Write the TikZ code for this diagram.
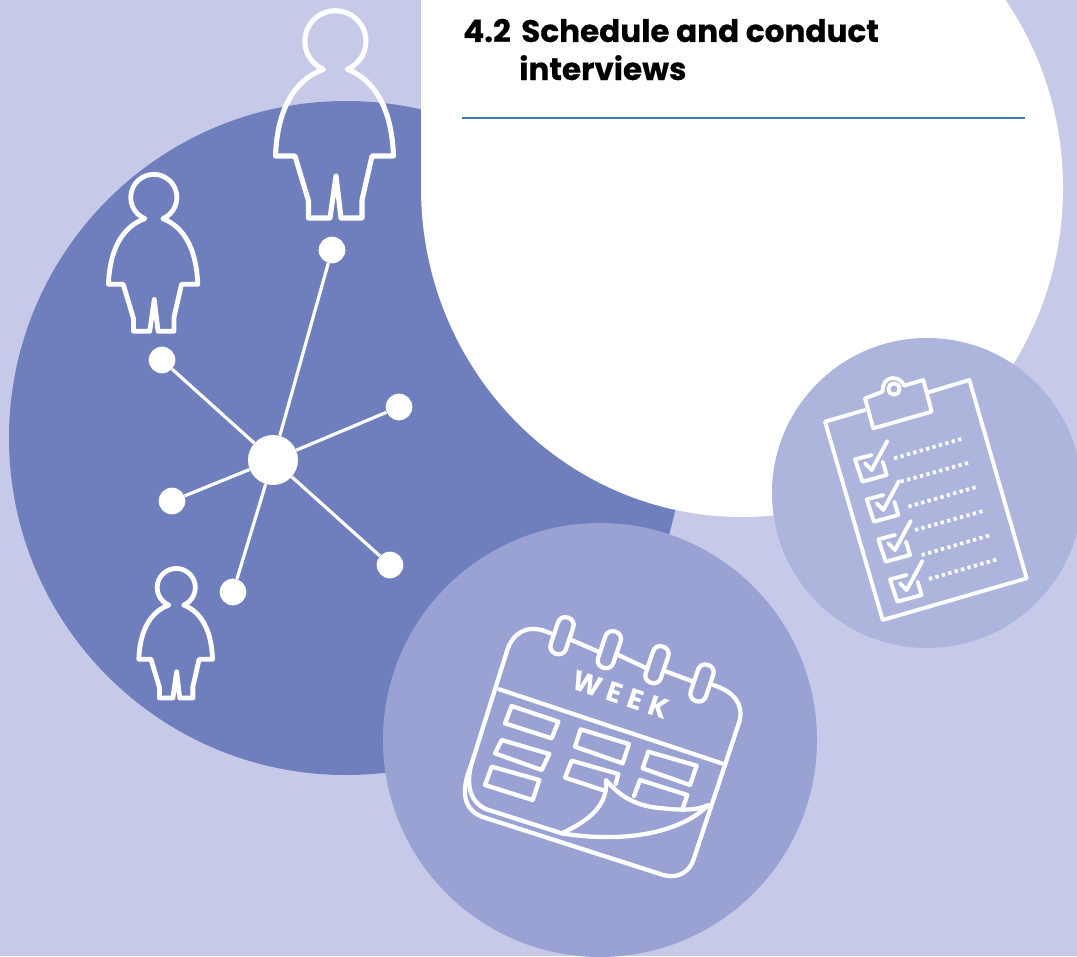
\documentclass[tikz,border=0pt]{standalone}
\usepackage{fontspec}
\setmainfont{Poppins}[BoldFeatures={FakeBold=0.5}]
\newfontfamily\weekfont[LetterSpace=24]{Poppins}
\definecolor{bgc}{HTML}{C6CAE8}
\definecolor{bigc}{HTML}{6F7FBD}
\definecolor{medc}{HTML}{9AA2D4}
\definecolor{smallc}{HTML}{ADB5DC}
\definecolor{rulec}{HTML}{3D7DB8}
\tikzset{
  icon/.style={draw=white,line cap=round,line join=round},
  hubdot/.style={circle,fill=white,inner sep=0pt,minimum size=#1},
  spoke/.style={draw=white,line width=2.4pt},
  titletext/.style={font=\bfseries\fontsize{23.3}{28}\selectfont,text=black,anchor=base west,inner sep=0pt},
}
\newcommand{\personfig}[4]{% cx, cy, scale, linewidth
  \begin{scope}[shift={(#1,#2)},scale=#3]
    \draw[icon,line width=#4]
      (-11.5,-44.7) arc[start angle=113,end angle=427,radius=30.5]
      .. controls (24,-40) and (56,-25) .. (58.5,42) -- (37,42) -- (27,86) -- (27,104) -- (6,104) -- (1,62) -- (-5,104) -- (-26.5,104) -- (-26.5,87) -- (-40,42) -- (-59.5,42)
      .. controls (-57,-25) and (-24,-40) .. cycle;
  \end{scope}
}
\begin{document}
\begin{tikzpicture}[x=0.75pt,y=-0.75pt]
\useasboundingbox (0,0) rectangle (1077,956);
\clip (0,0) rectangle (1077,956);
\fill[bgc] (0,0) rectangle (1077,956);
\fill[bigc] (346,438) circle[radius=337];
\fill[white] (742,188) ellipse[x radius=321,y radius=329];
\fill[white] (421,-5) rectangle (742,188);
\fill[smallc] (927,493) circle[radius=155];
\fill[medc] (600,740) circle[radius=217];

% title
\node[titletext] (num) at (463,42) {4.2};
\node[titletext] (t1) at (521,42) {Schedule and conduct};
\node[titletext] (t2) at (519,80) {interviews};
\coordinate (ruleA) at (462,118);
\coordinate (ruleB) at (1025,118);
\draw[rulec,line width=1.2pt] (ruleA) -- (ruleB);

% network
\node[hubdot=37.5pt] (hub) at (273,460) {};
\node[hubdot=20pt] (n1) at (332,250) {};
\node[hubdot=20pt] (n2) at (162,360) {};
\node[hubdot=20pt] (n3) at (399,407) {};
\node[hubdot=20pt] (n4) at (172,501) {};
\node[hubdot=20pt] (n5) at (233,592) {};
\node[hubdot=20pt] (n6) at (390,565) {};
\foreach \n in {n1,n2,n3,n4,n5,n6} \draw[spoke] (hub) -- (\n);

% people
\personfig{335}{114}{1}{3.8pt}
\personfig{153.5}{252.5}{0.757}{3.6pt}
\personfig{176}{633}{0.625}{3.6pt}

% calendar
\begin{scope}[shift={(450,600)},x=0.25pt,y=-0.25pt]
  \begin{scope}[icon,line width=3.2pt]
    \draw (302,100) .. controls (270,85) and (240,82) .. (215,95) .. controls (195,105) and (180,125) .. (172,150) -- (62,500) .. controls (35,565) and (35,625) .. (95,650) -- (640,825) .. controls (690,838) and (720,810) .. (730,780) -- (868,365) .. controls (882,310) and (850,275) .. (790,255);
    \draw (62,500) .. controls (48,565) and (65,610) .. (110,628) -- (335,700);
    \draw (360,118) -- (445,155);
    \draw (505,165) -- (590,205);
    \draw (650,215) -- (730,245);
    \foreach \cx/\cy in {336/107,478/149,621/194,756/249}
      \draw[rotate around={-18.6:(\cx,\cy)},rounded corners=5.5pt] (\cx-24,\cy-57) rectangle (\cx+24,\cy+57);
    \draw (148,268) -- (815,490);
    \draw (185,318) -- (325,365) -- (305,415) -- (165,370) -- cycle;
    \draw (155,420) -- (298,462) -- (275,510) -- (135,460) -- cycle;
    \draw (125,500) -- (268,540) -- (248,600) -- (105,555) -- cycle;
    \draw (392,388) -- (537,432) -- (518,490) -- (375,440) -- cycle;
    \draw (467,573) -- (345,533) -- (365,482) -- (505,522) -- (497,552);
    \draw (595,455) -- (740,497) -- (720,555) -- (578,505) -- cycle;
    \draw (552,588) -- (570,540) -- (712,585) -- (698,625);
    \draw (335,700) .. controls (410,665) and (475,620) .. (468,540) .. controls (510,590) and (560,620) .. (640,625) .. controls (700,632) and (745,630) .. (775,615) .. controls (690,700) and (520,730) .. (335,700);
  \end{scope}
  \node[font=\weekfont\bfseries\fontsize{21}{21}\selectfont,text=white,rotate=-18.6,inner sep=0pt] (week) at (512,285) {WEEK};
\end{scope}

% clipboard
\begin{scope}[shift={(810,365)},x=0.25pt,y=-0.25pt]
  \begin{scope}[icon,line width=2.9pt]
    \draw (165,135) -- (45,170) -- (218,765) -- (650,640) -- (478,45) -- (355,82);
    \draw (218,80) -- (165,100) -- (190,190) -- (365,140) -- (340,45) -- (282,62) .. controls (270,28) and (215,30) .. (218,80);
    \draw (252,72) circle[radius=17];
    \foreach \dx/\dy in {0/0,35/120,70/240,105/360} {
      \begin{scope}[shift={(\dx,\dy)}]
        \draw (185,270) -- (135,283) -- (157,350) -- (230,330) -- (218,290);
        \draw (165,295) -- (185,315) -- (232,228);
      \end{scope}
    }
  \end{scope}
  \foreach \ax/\ay/\bx/\by in {252/280/460/220,272/350/480/292,295/425/502/365,315/495/523/437,335/570/543/510,357/642/565/582}
    \draw[draw=white,line width=2.8pt,dash pattern=on 2.5pt off 2.5pt] (\ax,\ay) -- (\bx,\by);
\end{scope}
\end{tikzpicture}
\end{document}
